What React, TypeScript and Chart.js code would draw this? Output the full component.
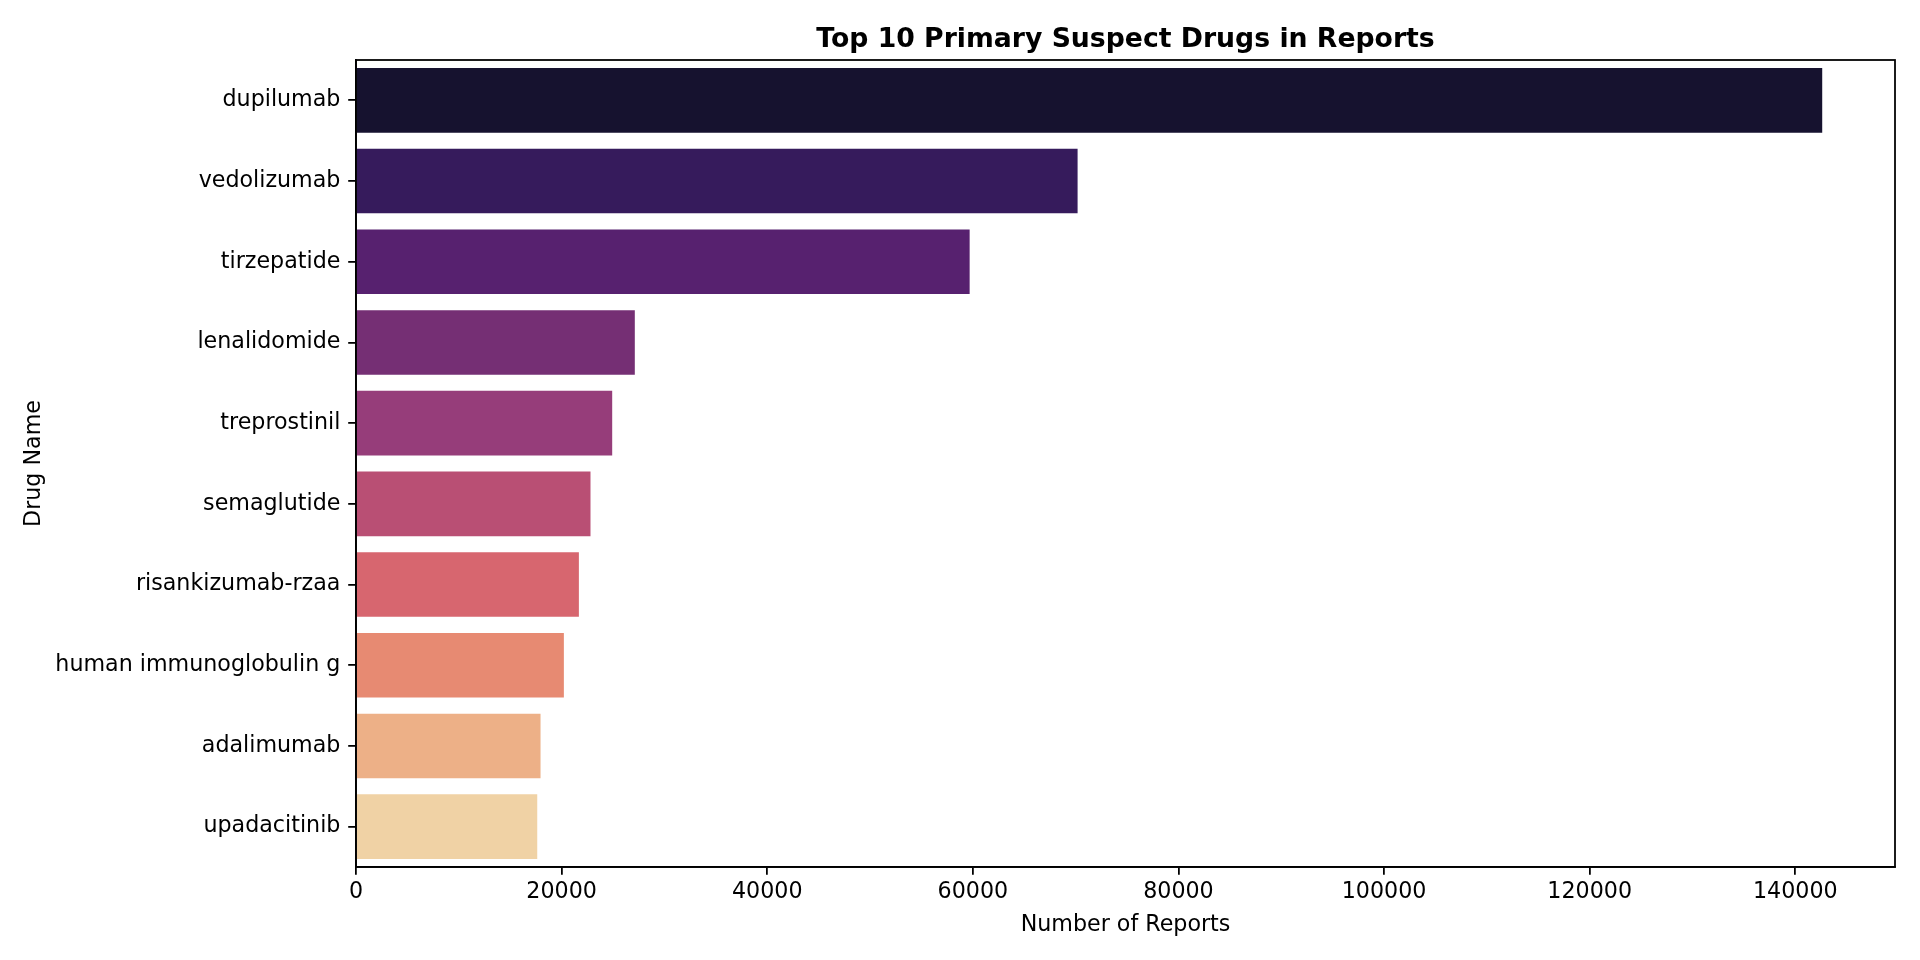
import { useEffect, useRef } from "react";
import { Chart, registerables, type Plugin } from "chart.js";

Chart.register(...registerables);

const drugNames = [
  "dupilumab",
  "vedolizumab",
  "tirzepatide",
  "lenalidomide",
  "treprostinil",
  "semaglutide",
  "risankizumab-rzaa",
  "human immunoglobulin g",
  "adalimumab",
  "upadacitinib",
];

const reportCounts = [142620, 70190, 59690, 27120, 24920, 22810, 21680, 20220, 17950, 17630];

// magma palette, desaturated like seaborn's default barplot
const barColors = [
  "#16122f",
  "#361b5c",
  "#57216f",
  "#752f74",
  "#963d7a",
  "#b94f74",
  "#d7666f",
  "#e78a72",
  "#edb087",
  "#f0d2a5",
];

const xTicks = [0, 20000, 40000, 60000, 80000, 100000, 120000, 140000];
const xMax = 149700;

const chartTitle = "Top 10 Primary Suspect Drugs in Reports";

const FONT = "'DejaVu Sans', sans-serif";

// matplotlib draws all four spines and centres the title over the axes
const frameAndTitle: Plugin<"bar"> = {
  id: "frameAndTitle",
  afterDraw(chart) {
    const { ctx, chartArea } = chart;
    ctx.save();
    ctx.strokeStyle = "#000";
    ctx.lineWidth = 1.78;
    ctx.strokeRect(chartArea.left, chartArea.top, chartArea.right - chartArea.left, chartArea.bottom - chartArea.top);
    ctx.fillStyle = "#000";
    ctx.font = `bold 26.7px ${FONT}`;
    ctx.textAlign = "center";
    ctx.textBaseline = "alphabetic";
    ctx.fillText(chartTitle, (chartArea.left + chartArea.right) / 2, chartArea.top - 13.3);
    ctx.restore();
  },
};

export default function App() {
  const canvasRef = useRef<HTMLCanvasElement>(null);

  useEffect(() => {
    if (!canvasRef.current) return;

    const chart = new Chart(canvasRef.current, {
      type: "bar",
      data: {
        labels: drugNames,
        datasets: [
          {
            data: reportCounts,
            backgroundColor: barColors,
            categoryPercentage: 0.8,
            barPercentage: 1,
          },
        ],
      },
      options: {
        indexAxis: "y",
        responsive: false,
        animation: false,
        layout: { padding: { left: 0, right: 25, top: 60, bottom: 0 } },
        plugins: {
          legend: { display: false },
          tooltip: { enabled: false },
          title: { display: false },
        },
        scales: {
          x: {
            type: "linear",
            min: 0,
            max: xMax,
            afterFit(scale) {
              scale.height = 93;
            },
            afterBuildTicks(scale) {
              scale.ticks = xTicks.map((value) => ({ value }));
            },
            border: { display: true, color: "#000", width: 1.78 },
            grid: { drawOnChartArea: false, drawTicks: true, tickLength: 7.8, color: "#000", lineWidth: 1.78 },
            ticks: {
              padding: 4,
              maxRotation: 0,
              autoSkip: false,
              color: "#000",
              font: { family: FONT, size: 22.2 },
              callback: (v) => String(v),
            },
            title: {
              display: true,
              text: "Number of Reports",
              color: "#000",
              font: { family: FONT, size: 22.2, lineHeight: 1.2 },
              padding: { top: 0, bottom: 21 },
            },
          },
          y: {
            type: "category",
            afterFit(scale) {
              scale.width = 356;
            },
            border: { display: true, color: "#000", width: 1.78 },
            grid: { offset: false, drawOnChartArea: false, drawTicks: true, tickLength: 7.8, color: "#000", lineWidth: 1.78 },
            ticks: {
              padding: 7.8,
              color: "#000",
              font: { family: FONT, size: 22.2 },
            },
            title: {
              display: true,
              text: "Drug Name",
              color: "#000",
              font: { family: FONT, size: 22.2, lineHeight: 1.2 },
              padding: { top: 20.7, bottom: 0 },
            },
          },
        },
      },
      plugins: [frameAndTitle],
    });

    return () => chart.destroy();
  }, []);

  return (
    <div style={{ position: "fixed", left: 0, top: 0, width: 1920, height: 960, background: "#fff" }}>
      <canvas ref={canvasRef} width={1920} height={960} />
    </div>
  );
}
